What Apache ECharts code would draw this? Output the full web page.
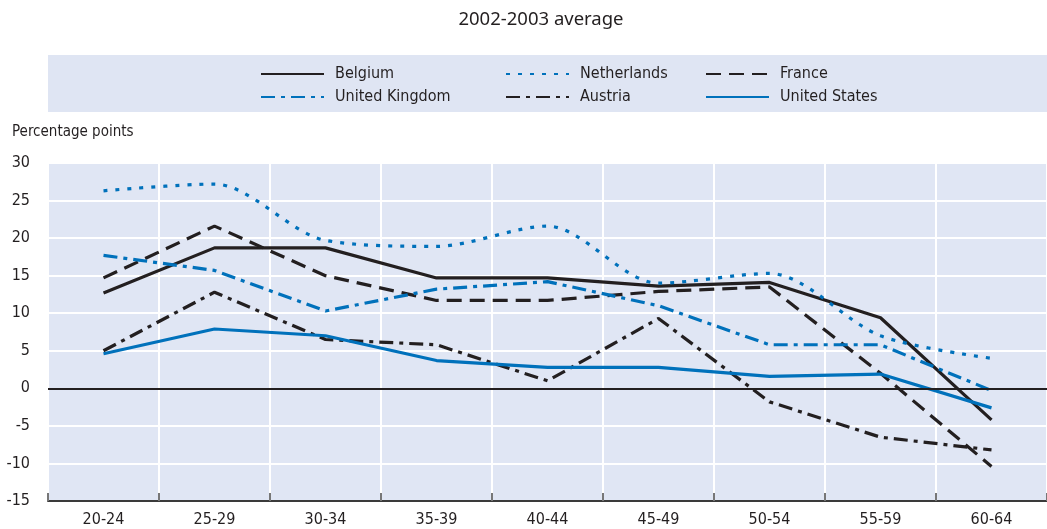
<!DOCTYPE html>
<html>
<head>
<meta charset="utf-8">
<script src="https://cdn.jsdelivr.net/npm/echarts@6/dist/echarts.min.js"></script>
<style>
  html, body { margin: 0; padding: 0; background: #fff; }
  #main { width: 1047px; height: 529px; }
</style>
</head>
<body>
<div id="main"></div>
<script>
// age groups
const ageGroups = ["20-24", "25-29", "30-34", "35-39", "40-44", "45-49", "50-54", "55-59", "60-64"];

// percentage points
const belgium = [12.7, 18.7, 18.7, 14.7, 14.7, 13.6, 14.1, 9.4, -4.2];
const netherlands = [26.3, 27.2, 19.7, 18.9, 21.6, 14.0, 15.3, 7.0, 4.0];
const france = [14.7, 21.6, 15.0, 11.7, 11.7, 12.9, 13.5, 2.0, -10.4];
const unitedKingdom = [17.7, 15.7, 10.3, 13.2, 14.2, 11.0, 5.8, 5.8, -0.3];
const austria = [5.0, 12.8, 6.5, 5.8, 1.0, 9.3, -1.8, -6.5, -8.2];
const unitedStates = [4.6, 7.9, 7.0, 3.7, 2.8, 2.8, 1.6, 1.9, -2.6];

const yTicks = { min: -15, max: 30, step: 5 };

const BLACK = "#231f20";
const BLUE = "#0071bb";
const FONT = "'Liberation Sans Narrow', 'DejaVu Sans Condensed', 'Liberation Sans', sans-serif";

const chart = echarts.init(document.getElementById("main"));

// helper for one line series
function mkSeries(name, data, color, type, smooth) {
  return {
    name: name,
    type: "line",
    data: data,
    symbol: "none",
    smooth: smooth || false,
    lineStyle: { color: color, width: 3.2, type: type, cap: "butt" },
    itemStyle: { color: color },
    emphasis: { disabled: true },
  };
}

const series = [
  mkSeries("Belgium", belgium, BLACK, "solid"),
  mkSeries("Netherlands", netherlands, BLUE, [4, 8], 0.3),
  mkSeries("France", france, BLACK, [15, 8]),
  mkSeries("United Kingdom", unitedKingdom, BLUE, [14, 6, 4, 6]),
  mkSeries("Austria", austria, BLACK, [14, 6, 4, 6]),
  mkSeries("United States", unitedStates, BLUE, "solid"),
];
// zero line
series[0].markLine = {
  silent: true,
  symbol: "none",
  label: { show: false },
  lineStyle: { color: BLACK, width: 2, type: "solid" },
  data: [{ yAxis: 0 }],
};

// legend columns (3 columns, 2 rows)
function mkLegend(left, names) {
  return {
    orient: "vertical",
    left: left,
    top: 61,
    itemWidth: 63,
    itemHeight: 14,
    itemGap: 7,
    data: names,
    selectedMode: false,
    itemStyle: { opacity: 0 },
    textStyle: { fontFamily: FONT, fontSize: 16, color: "#231f20", padding: [0, 0, 0, 6] },
  };
}

const option = {
  animation: false,
  graphic: [
    {
      type: "rect",
      left: 48, top: 55,
      shape: { width: 1000, height: 57 },
      style: { fill: "#dfe5f3" },
      z: -1,
    },
    {
      type: "text",
      left: 12, top: 125,
      style: { text: "Percentage points", font: "15px " + FONT, fill: "#231f20" },
    },
    {
      type: "text",
      x: 541, y: 10,
      style: {
        text: "2002-2003 average",
        font: "18.5px 'Noto Sans', sans-serif",
        fill: "#231f20",
        textAlign: "center",
      },
    },
  ],
  legend: [
    mkLegend(255, ["Belgium", "United Kingdom"]),
    mkLegend(500, ["Netherlands", "Austria"]),
    mkLegend(700, ["France", "United States"]),
  ],
  grid: {
    left: 48, right: 0, top: 163, bottom: 28,
    show: true,
    backgroundColor: "#e0e6f4",
    borderColor: "#a6a6a6",
    borderWidth: 1,
  },
  xAxis: {
    type: "category",
    data: ageGroups,
    boundaryGap: true,
    axisLine: { onZero: false, lineStyle: { color: "#3a3a3a", width: 2 } },
    axisTick: { show: true, inside: true, length: 8, lineStyle: { color: "#777", width: 2 } },
    splitLine: { show: true, lineStyle: { color: "#ffffff", width: 2 } },
    axisLabel: { fontFamily: FONT, fontSize: 16, color: "#231f20", margin: 11 },
  },
  yAxis: {
    type: "value",
    min: yTicks.min,
    max: yTicks.max,
    interval: yTicks.step,
    axisLine: { show: false },
    axisTick: { show: false },
    splitLine: { lineStyle: { color: "#ffffff", width: 2 } },
    axisLabel: { fontFamily: FONT, fontSize: 16, color: "#231f20", margin: 18 },
  },
  series: series,
};

chart.setOption(option);
</script>
</body>
</html>
